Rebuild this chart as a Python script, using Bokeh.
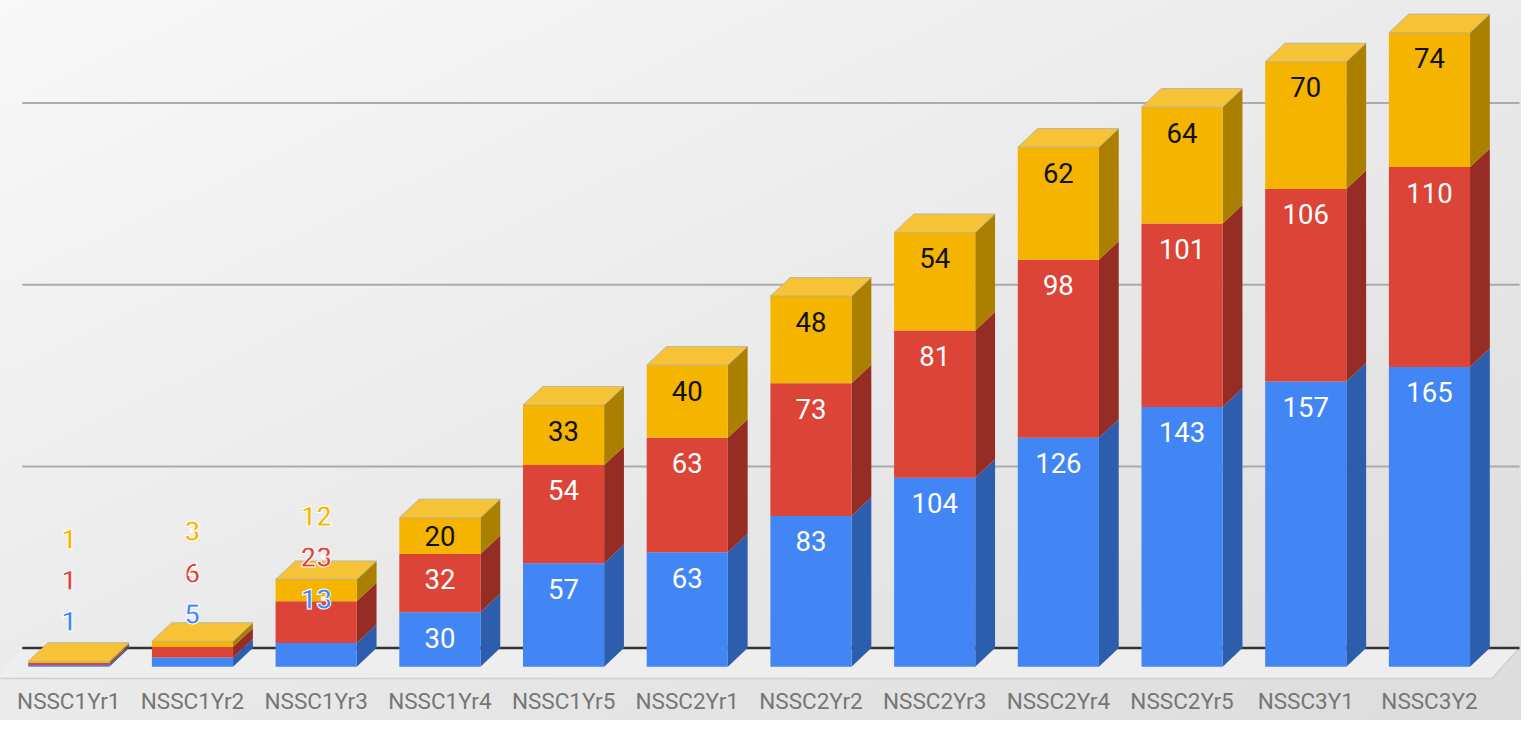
from bokeh.plotting import figure
from bokeh.models import Range1d, ColumnDataSource, FixedTicker
from bokeh.embed import file_html
from bokeh.resources import INLINE
from bokeh.core.properties import value

# ---------------- data ----------------
categories = ["NSSC1Yr1", "NSSC1Yr2", "NSSC1Yr3", "NSSC1Yr4", "NSSC1Yr5", "NSSC2Yr1",
              "NSSC2Yr2", "NSSC2Yr3", "NSSC2Yr4", "NSSC2Yr5", "NSSC3Y1", "NSSC3Y2"]
series_blue = [1, 5, 13, 30, 57, 63, 83, 104, 126, 143, 157, 165]
series_red = [1, 6, 23, 32, 54, 63, 73, 81, 98, 101, 106, 110]
series_yellow = [1, 3, 12, 20, 33, 40, 48, 54, 62, 64, 70, 74]
gridline_values = [100, 200, 300]

# ---------------- layout (reference pixel units, scaled to canvas) ----------------
W, H = 1521, 720
SX, SY = W / 1537.0, H / 736.0
BOTTOM_BORDER = 40
FRAME_H = H - BOTTOM_BORDER

PX_PER_UNIT = 1.857 * SY          # vertical pixels per value unit
PX_PER_CAT = 125.0 * SX           # horizontal pixels per category
ZERO_Y = 681 * SY                 # canvas y of value 0 (front)
FIRST_X = 69 * SX                 # canvas x of first bar centre
HALF_W = 41 * SX
DEPTH_X = 20 * SX
DEPTH_Y = 19 * SY

y0 = -(FRAME_H - ZERO_Y) / PX_PER_UNIT
y1 = y0 + FRAME_H / PX_PER_UNIT
x0 = -FIRST_X / PX_PER_CAT
x1 = x0 + W / PX_PER_CAT
hw = HALF_W / PX_PER_CAT
ddx = DEPTH_X / PX_PER_CAT
ddy = DEPTH_Y / PX_PER_UNIT


def cx(ref_px):
    return x0 + ref_px * SX / PX_PER_CAT


front_colors = ["#4285f4", "#db4437", "#f4b400"]
side_colors = ["#2d5eae", "#962d24", "#ab7f00"]
top_color = "#f6c236"
inside_text_colors = ["#ffffff", "#ffffff", "#111111"]
FONT = "Roboto"

p = figure(width=W, height=H, output_backend="svg", toolbar_location=None,
           x_range=Range1d(x0, x1), y_range=Range1d(y0, y1),
           min_border_left=0, min_border_right=0, min_border_top=0,
           min_border_bottom=BOTTOM_BORDER)
p.styles = {"background": "linear-gradient(to bottom right, #f8f8f8, #dcdcdc)"}
p.background_fill_alpha = 0
p.border_fill_alpha = 0
p.outline_line_color = None
p.xgrid.visible = False
p.ygrid.visible = False
p.yaxis.visible = False

xa = p.xaxis[0]
xa.ticker = FixedTicker(ticks=list(range(len(categories))))
xa.major_label_overrides = {i: c for i, c in enumerate(categories)}
xa.axis_line_color = None
xa.major_tick_line_color = None
xa.minor_tick_line_color = None
xa.major_label_standoff = 1
xa.major_label_text_font = FONT
xa.major_label_text_font_size = "22.5px"
xa.major_label_text_color = "#757575"

n = len(categories)
left_back = cx(22)
right_back = cx(1535)
floor_front_right = cx(1507)
floor_front_left = cx(-4)
floor_front_y = -12 * SY / PX_PER_UNIT

# floor
p.patch(x=[floor_front_left, floor_front_right, right_back, left_back],
        y=[floor_front_y, floor_front_y, ddy, ddy],
        fill_color="#eeeeee", line_color=None)
p.line(x=[floor_front_left, floor_front_right, right_back],
       y=[floor_front_y, floor_front_y, ddy], line_color="#d0d0d0", line_width=1.5)

# gridlines on back wall
for g in gridline_values:
    p.line(x=[left_back, right_back], y=[g + ddy, g + ddy], line_color="#ababab", line_width=2)
p.line(x=[left_back, right_back], y=[ddy, ddy], line_color="#333333", line_width=2.5)

# stacked 3D bars
series = [series_blue, series_red, series_yellow]
bottoms = [0.0] * n
seg = []
for k, vals in enumerate(series):
    tops = [b + v for b, v in zip(bottoms, vals)]
    seg.append((list(bottoms), tops))
    xs_side, ys_side = [], []
    for i in range(n):
        xr = i + hw
        xs_side.append([xr, xr + ddx, xr + ddx, xr])
        ys_side.append([bottoms[i], bottoms[i] + ddy, tops[i] + ddy, tops[i]])
    p.patches(xs=xs_side, ys=ys_side, fill_color=side_colors[k], line_color=None)
    p.quad(left=[i - hw for i in range(n)], right=[i + hw for i in range(n)],
           bottom=bottoms, top=tops, fill_color=front_colors[k], line_color=None)
    bottoms = tops

totals = bottoms
xs_top = [[i - hw, i + hw, i + hw + ddx, i - hw + ddx] for i in range(n)]
ys_top = [[t, t, t + ddy, t + ddy] for t in totals]
p.patches(xs=xs_top, ys=ys_top, fill_color=top_color, line_color="#a8a8a8",
          line_width=1, line_alpha=0.7)

# data labels
INSIDE_OFFSET = 26 * SY / PX_PER_UNIT
OUT_FIRST = 45 * SY / PX_PER_UNIT
OUT_STEP = 42 * SY / PX_PER_UNIT
MIN_INSIDE = 30 * SY / PX_PER_UNIT

in_x, in_y, in_t, in_c = [], [], [], []
out_x, out_y, out_t, out_c = [], [], [], []
for i in range(n):
    col_vals = [s[i] for s in series]
    if min(col_vals) < MIN_INSIDE:
        prev = None
        for k in range(3):
            top = seg[k][1][i]
            ly = top + OUT_FIRST
            if prev is not None:
                ly = max(ly, prev + OUT_STEP)
            prev = ly
            out_x.append(i); out_y.append(ly); out_t.append(str(col_vals[k])); out_c.append(front_colors[k])
    else:
        for k in range(3):
            b, t = seg[k][0][i], seg[k][1][i]
            ly = t - min(INSIDE_OFFSET, (t - b) / 2)
            in_x.append(i); in_y.append(ly); in_t.append(str(col_vals[k])); in_c.append(inside_text_colors[k])

src_in = ColumnDataSource(dict(x=in_x, y=in_y, t=in_t, c=in_c))
p.text(x="x", y="y", text="t", text_color="c", source=src_in, text_align="center",
       text_baseline="middle", text_font=value(FONT), text_font_size="27.5px")

src_out = ColumnDataSource(dict(x=out_x, y=out_y, t=out_t, c=out_c))
r_out = p.text(x="x", y="y", text="t", text_color="c", source=src_out, text_align="center",
               text_baseline="middle", text_font=value(FONT), text_font_size="27.5px",
               text_font_style="bold")
try:
    r_out.glyph.text_outline_color = "white"
except Exception:
    pass

open("out.html", "w").write(file_html(p, INLINE))
